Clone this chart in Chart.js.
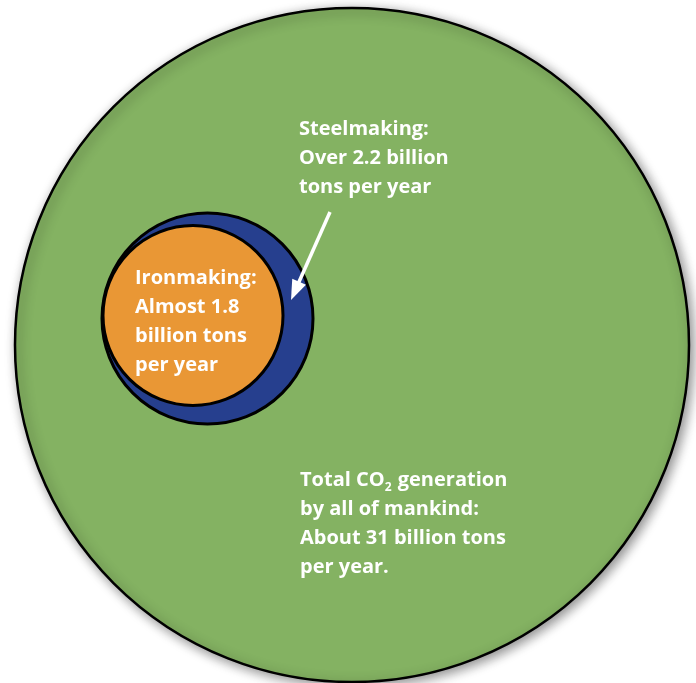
<!DOCTYPE html>
<html>
<head>
<meta charset="utf-8">
<script src="https://cdn.jsdelivr.net/npm/chart.js@4.4.1/dist/chart.umd.min.js"></script>
<style>
  html, body { margin: 0; padding: 0; background: #fff; }
  #wrap { width: 696px; height: 683px; }
</style>
</head>
<body>
<div id="wrap"><canvas id="co2_canvas"></canvas></div>
<script>
// values, billion tons of CO2 per year
var categories = ["Total CO2 generation", "Steelmaking", "Ironmaking"];
var tonsPerYear = [31, 2.2, 1.8];
var labelLines = [
  ["Total CO_2 generation", "by all of mankind:", "About 31 billion tons", "per year."],
  ["Steelmaking:", "Over 2.2 billion", "tons per year"],
  ["Ironmaking:", "Almost 1.8", "billion tons", "per year"]
];

// layout of the illustration (page units, not data)
var bubbleCentre = [[352, 345], [207.5, 318.5], [193, 315.5]];
var bubbleRadius = [337, 105.5, 90];
var labelAnchor = [[300, 486], [299, 135], [135, 284]];
var colours = ["#84b262", "#263f8e", "#e99735"];
var arrowFrom = [330, 212], arrowTo = [291, 300];

var fontFamily = "'Open Sans', sans-serif";
var fontSize = 20;

var shadowPlugin = {
  id: 'shadow',
  beforeDatasetDraw: function(chart, args) {
    if (args.index !== 0) return;
    var c = chart.ctx;
    c.save();
    c.shadowColor = 'rgba(0,0,0,0.45)';
    c.shadowBlur = 12;
    c.shadowOffsetX = 3;
    c.shadowOffsetY = 3;
  },
  afterDatasetDraw: function(chart, args) {
    if (args.index !== 0) return;
    chart.ctx.restore();
  }
};

var labelPlugin = {
  id: 'labels',
  afterDatasetsDraw: function(chart) {
    var c = chart.ctx, xs = chart.scales.x, ys = chart.scales.y;
    c.save();
    c.fillStyle = '#fff';
    c.textBaseline = 'alphabetic';
    labelLines.forEach(function(lines, i) {
      var x0 = xs.getPixelForValue(labelAnchor[i][0]);
      var y0 = ys.getPixelForValue(labelAnchor[i][1]);
      lines.forEach(function(line, j) {
        var y = y0 + j * 29;
        var parts = line.split('_2');
        var x = x0;
        c.font = "bold " + fontSize + "px " + fontFamily;
        c.fillText(parts[0], x, y);
        if (parts.length > 1) {
          x += c.measureText(parts[0]).width;
          c.font = "bold 12px " + fontFamily;
          c.fillText('2', x, y + 5);
          x += c.measureText('2').width + 1;
          c.font = "bold " + fontSize + "px " + fontFamily;
          c.fillText(parts[1], x, y);
        }
      });
    });

    // arrow from the steelmaking label to the blue ring
    var ax = xs.getPixelForValue(arrowFrom[0]), ay = ys.getPixelForValue(arrowFrom[1]);
    var bx = xs.getPixelForValue(arrowTo[0]), by = ys.getPixelForValue(arrowTo[1]);
    var dx = bx - ax, dy = by - ay, len = Math.sqrt(dx * dx + dy * dy);
    var ux = dx / len, uy = dy / len;
    var headLen = 20, headW = 7.5;
    var baseX = bx - ux * headLen, baseY = by - uy * headLen;
    c.strokeStyle = '#fff';
    c.lineWidth = 3.5;
    c.beginPath();
    c.moveTo(ax, ay);
    c.lineTo(baseX + ux * 2, baseY + uy * 2);
    c.stroke();
    c.beginPath();
    c.moveTo(bx, by);
    c.lineTo(baseX - uy * headW, baseY + ux * headW);
    c.lineTo(baseX + uy * headW, baseY - ux * headW);
    c.closePath();
    c.fill();
    c.restore();
  }
};

var datasets = categories.map(function(name, i) {
  return {
    label: name,
    data: [{ x: bubbleCentre[i][0], y: bubbleCentre[i][1], r: bubbleRadius[i], v: tonsPerYear[i] }],
    backgroundColor: colours[i],
    borderColor: '#000',
    borderWidth: i === 0 ? 2.5 : 3,
    hoverBorderWidth: i === 0 ? 2.5 : 3,
    hoverRadius: 0,
    order: categories.length - i,
    clip: false
  };
});

var ctx = document.getElementById("co2_canvas");
var chart = new Chart(ctx, {
  type: 'bubble',
  data: { datasets: datasets },
  options: {
    responsive: true,
    maintainAspectRatio: false,
    animation: false,
    layout: { padding: 0, autoPadding: false },
    scales: {
      x: { type: 'linear', min: 0, max: 696, display: false },
      y: { type: 'linear', min: 0, max: 683, reverse: true, display: false }
    },
    plugins: {
      legend: { display: false },
      tooltip: { enabled: false }
    },
    events: []
  },
  plugins: [shadowPlugin, labelPlugin]
});
</script>
</body>
</html>
